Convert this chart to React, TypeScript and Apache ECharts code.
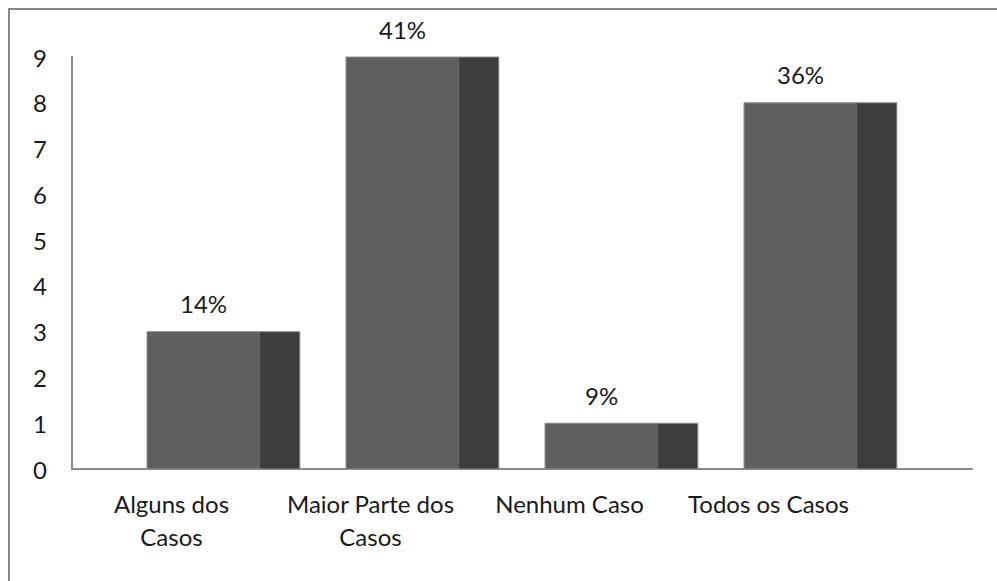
import React, { useEffect, useRef } from "react";
import * as echarts from "echarts";

// Number of cases per answer, with the share shown above each column
const categories = ["Alguns dos\nCasos", "Maior Parte dos\nCasos", "Nenhum Caso", "Todos os Casos"];
const values = [3, 9, 1, 8];
const shareLabels = ["14%", "41%", "9%", "36%"];
const yTicks = [0, 1, 2, 3, 4, 5, 6, 7, 8, 9];

const FONT = "Lato, 'DejaVu Sans', sans-serif";
const FONT_SIZE = 24;
const FRONT = "#5f5f5f";
const SIDE = "#3d3d3d";
const AXIS = "#8a8a8a";
const TEXT = "#1a1a1a";

export default function App() {
  const ref = useRef<HTMLDivElement>(null);

  useEffect(() => {
    if (!ref.current) return;
    const chart = echarts.init(ref.current, null, { renderer: "svg" });

    const option: any = {
      animation: false,
      backgroundColor: "#ffffff",
      textStyle: { fontFamily: FONT },
      graphic: [
        {
          type: "rect",
          shape: { x: 9, y: 9, width: 1200, height: 800 },
          style: { fill: "none", stroke: "#878787", lineWidth: 2 },
          silent: true,
          z: 0,
        },
      ],
      grid: [
        { left: 72, top: 57, width: 796, height: 412 },
        { left: 72, top: 57, width: 900, height: 412 },
      ],
      xAxis: [
        {
          type: "category",
          gridIndex: 0,
          data: categories,
          axisLine: { show: false },
          axisTick: { show: false },
          axisLabel: {
            color: TEXT,
            fontFamily: FONT,
            fontSize: FONT_SIZE,
            lineHeight: 33,
            margin: 18,
            interval: 0,
          },
        },
        {
          type: "category",
          gridIndex: 1,
          data: [""],
          axisLine: { show: true, lineStyle: { color: AXIS, width: 2 } },
          axisTick: { show: false },
          axisLabel: { show: false },
        },
      ],
      yAxis: [
        {
          type: "value",
          gridIndex: 0,
          min: yTicks[0],
          max: yTicks[yTicks.length - 1],
          interval: 1,
          splitLine: { show: false },
          axisTick: { show: false },
          axisLine: { show: true, lineStyle: { color: AXIS, width: 2 } },
          axisLabel: {
            color: TEXT,
            fontFamily: FONT,
            fontSize: FONT_SIZE,
            margin: 25,
          },
        },
        {
          type: "value",
          gridIndex: 1,
          min: yTicks[0],
          max: yTicks[yTicks.length - 1],
          show: false,
        },
      ],
      series: [
        {
          type: "custom",
          xAxisIndex: 0,
          yAxisIndex: 0,
          clip: false,
          encode: { x: 0, y: 1 },
          data: values.map((v, i) => [i, v]),
          renderItem: (params: any, api: any) => {
            const idx = api.value(0);
            const v = api.value(1);
            const top = api.coord([idx, v]);
            const base = api.coord([idx, 0]);
            const bw = api.size([1, 0])[0];
            // front face and shaded side face of each column
            const fl = top[0] - 0.123 * bw;
            const fr = top[0] + 0.445 * bw;
            const sr = top[0] + 0.645 * bw;
            const h = base[1] - top[1];
            return {
              type: "group",
              children: [
                {
                  type: "rect",
                  shape: { x: fl, y: top[1], width: fr - fl, height: h },
                  style: { fill: FRONT },
                },
                {
                  type: "rect",
                  shape: { x: fr, y: top[1], width: sr - fr, height: h },
                  style: { fill: SIDE },
                },
                {
                  type: "rect",
                  shape: { x: fl, y: top[1], width: sr - fl, height: h },
                  style: { fill: "none", stroke: "#8e8e8e", lineWidth: 1 },
                },
                {
                  type: "text",
                  x: (fl + fr) / 2,
                  y: top[1] - 28,
                  style: {
                    text: shareLabels[idx],
                    fill: TEXT,
                    fontFamily: FONT,
                    fontSize: FONT_SIZE,
                    align: "center",
                    verticalAlign: "middle",
                  },
                },
              ],
            };
          },
        },
      ],
    };

    chart.setOption(option);
    return () => chart.dispose();
  }, []);

  return (
    <div
      ref={ref}
      style={{ position: "fixed", left: 0, top: 0, width: 997, height: 581, background: "#fff" }}
    />
  );
}
